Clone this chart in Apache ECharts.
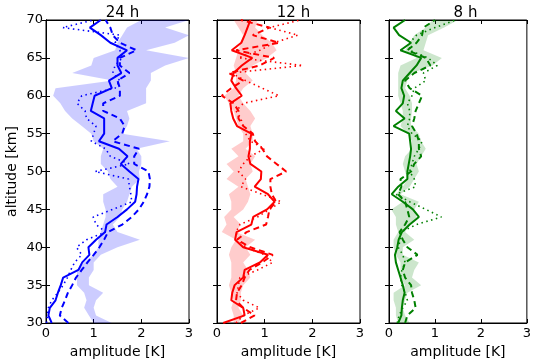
<!DOCTYPE html>
<html><head><meta charset="utf-8">
<script src="https://cdn.jsdelivr.net/npm/echarts@6/dist/echarts.min.js"></script>
<style>html,body{margin:0;padding:0;background:#fff}#c{width:534px;height:364px}</style>
</head><body><div id="c"></div>
<script>
// altitude levels [km], ascending 30..70
const altitudes = [30,31,32,33,34,35,36,37,38,39,40,41,42,43,44,45,46,47,48,49,50,51,52,53,54,55,56,57,58,59,60,61,62,63,64,65,66,67,68,69,70];
const panelTitles = ['24 h','12 h','8 h'];
const xTicks = [0,1,2,3];
const yTicks = [30,35,40,45,50,55,60,65,70];

// 24 h
const solid24 = [0.12,0.05,0.08,0.20,0.25,0.31,0.36,0.68,0.76,0.91,0.89,1.05,1.24,1.27,1.50,1.70,1.87,1.90,1.91,1.94,1.75,1.57,1.71,1.53,1.11,1.22,1.22,1.22,0.94,0.98,1.02,1.38,1.32,1.58,1.50,1.50,1.70,1.35,1.15,0.92,1.15];
const dashed24 = [0.47,0.29,0.33,0.40,0.46,0.55,0.63,0.75,0.87,1.00,1.12,1.22,1.30,1.60,1.80,1.95,2.05,2.12,2.17,2.18,2.15,1.85,1.85,1.95,1.40,1.60,1.65,1.55,1.20,1.20,1.55,1.55,1.50,1.75,1.55,1.55,1.90,1.55,1.40,1.35,1.25];
const dotted24 = [0.01,0.03,0.05,0.12,0.25,0.36,0.45,0.52,0.60,0.75,0.64,0.85,1.25,1.05,0.99,1.40,1.80,1.78,1.75,1.73,1.03,1.75,1.35,1.25,0.95,1.00,1.05,0.85,0.82,0.65,0.75,1.45,1.55,1.40,1.45,1.60,1.55,1.45,1.55,0.35,1.00];
const bandLow24 = [1.0,0.9,0.8,0.85,0.8,0.65,0.65,0.65,0.8,1.0,1.1,1.1,1.15,1.2,1.25,1.25,1.2,1.2,1.5,1.35,1.3,1.15,1.15,1.2,1.0,0.95,0.75,0.55,0.4,0.3,0.15,0.2,1.4,0.55,0.95,1.0,1.45,1.5,1.6,1.7,2.0];
const bandHigh24 = [1.38,1.05,1.0,1.05,1.2,0.9,0.9,1.0,1.0,1.15,1.5,1.97,1.5,1.4,1.55,1.6,1.7,1.75,1.8,1.97,1.95,2.0,2.0,1.9,2.6,1.6,1.7,1.75,1.7,2.1,2.1,2.1,2.2,2.2,2.5,3.0,2.1,2.7,3.0,2.5,3.0];

// 12 h
const solid12 = [0.13,0.58,0.55,0.30,0.32,0.37,0.55,0.58,0.90,1.07,0.55,0.38,0.41,0.72,0.76,1.05,1.21,1.07,0.79,0.92,0.93,0.70,0.66,0.69,0.69,0.72,0.42,0.34,0.30,0.28,0.52,0.40,0.30,0.35,0.52,0.74,0.31,0.51,0.58,0.64,0.70];
const dashed12 = [0.50,0.79,0.55,0.40,0.42,0.52,0.58,0.68,0.95,1.17,0.70,0.42,0.62,1.03,1.07,1.10,1.24,1.15,1.12,1.12,1.45,1.25,1.05,0.95,0.80,0.75,0.55,0.45,0.45,0.35,0.10,0.30,0.55,0.25,0.90,1.20,0.40,1.30,0.75,1.10,0.50];
const dotted12 = [0.40,0.55,0.89,0.55,0.42,0.45,0.48,0.85,1.17,1.00,0.60,0.45,0.40,0.48,0.85,1.10,1.35,0.95,0.50,0.60,0.45,0.55,0.70,1.00,0.70,0.60,0.55,0.50,0.40,0.55,1.30,0.95,0.60,0.30,1.80,0.45,0.90,1.20,1.70,1.10,1.75];
const bandLow12 = [0.35,0.35,0.30,0.35,0.30,0.25,0.30,0.30,0.30,0.25,0.30,0.40,0.10,0.20,0.15,0.30,0.30,0.25,0.45,0.20,0.35,0.20,0.45,0.30,0.55,0.55,0.45,0.40,0.35,0.25,0.15,0.35,0.40,0.40,0.35,0.40,0.45,0.50,0.55,0.45,0.35];
const bandHigh12 = [0.45,0.55,0.45,0.50,0.50,0.55,0.70,0.65,0.55,0.70,0.60,0.80,0.40,0.50,0.35,0.55,0.65,0.70,0.65,0.60,0.75,0.70,0.80,0.60,0.75,0.75,0.70,0.80,0.70,0.55,0.45,0.55,0.75,0.60,0.75,1.05,1.25,1.15,0.95,0.80,0.85];

// 8 h
const solid8 = [0.20,0.27,0.28,0.30,0.34,0.30,0.25,0.20,0.15,0.13,0.18,0.21,0.28,0.45,0.65,0.52,0.30,0.06,0.20,0.40,0.40,0.43,0.46,0.48,0.46,0.44,0.10,0.34,0.15,0.30,0.33,0.27,0.30,0.45,0.60,0.70,0.25,0.48,0.22,0.10,0.35];
const dashed8 = [0.35,0.40,0.58,0.55,0.50,0.48,0.35,0.30,0.35,0.62,0.40,0.30,0.23,0.35,0.44,0.40,0.35,0.20,0.27,0.25,0.48,0.55,0.70,0.65,0.65,0.60,0.50,0.55,0.58,0.65,0.72,0.45,0.35,0.55,0.90,0.80,0.40,0.60,0.72,0.75,1.00];
const dotted8 = [0.18,0.22,0.30,0.40,0.35,0.28,0.25,0.28,0.35,0.30,0.20,0.25,0.25,0.60,1.14,0.80,0.45,0.15,0.58,0.55,0.45,0.50,0.55,0.65,0.72,0.50,0.40,0.45,0.45,0.40,0.50,0.55,0.80,0.75,1.05,0.85,0.45,0.45,0.60,1.00,1.45];
const bandLow8 = [0.20,0.15,0.15,0.10,0.10,0.35,0.25,0.25,0.25,0.15,0.10,0.10,0.20,0.15,0.15,0.05,0.30,0.15,0.30,0.40,0.35,0.30,0.35,0.50,0.50,0.40,0.25,0.30,0.30,0.25,0.20,0.20,0.20,0.20,0.25,0.60,0.35,0.45,0.55,0.80,0.95];
const bandHigh8 = [0.45,0.35,0.30,0.35,0.40,0.70,0.50,0.55,0.65,0.30,0.30,0.55,0.35,0.45,0.60,0.55,0.65,0.25,0.45,0.55,0.65,0.60,0.70,0.80,0.70,0.65,0.48,0.48,0.50,0.50,0.45,0.35,0.40,0.50,0.95,1.15,0.75,0.80,0.85,1.20,1.50];

const panels = [
  {solid: solid24, dashed: dashed24, dotted: dotted24, low: bandLow24, high: bandHigh24, color: '#0000ff', fill: 'rgba(0,0,255,0.2)'},
  {solid: solid12, dashed: dashed12, dotted: dotted12, low: bandLow12, high: bandHigh12, color: '#ff0000', fill: 'rgba(255,0,0,0.2)'},
  {solid: solid8, dashed: dashed8, dotted: dotted8, low: bandLow8, high: bandHigh8, color: '#008000', fill: 'rgba(0,128,0,0.2)'}
];

const FONT = 'DejaVu Sans';
const lefts = [46, 217, 389];
const W = 143, TOP = 20, H = 308;

const grids = [], xAxes = [], yAxes = [], series = [], titles = [];
panels.forEach((p, i) => {
  grids.push({left: lefts[i], top: TOP, width: W, height: H, show: true, borderColor: '#000', borderWidth: 1, backgroundColor: 'transparent'});
  const tick = {show: true, inside: true, length: 4, lineStyle: {color: '#000', width: 1}};
  const xBase = {type: 'value', gridIndex: i, min: xTicks[0], max: xTicks[xTicks.length-1], interval: 1,
    splitLine: {show: false}, axisLine: {show: true, lineStyle: {color: '#000', width: 1}}, axisTick: tick};
  xAxes.push(Object.assign({}, xBase, {position: 'bottom',
    axisLabel: {show: true, color: '#000', fontSize: 13, fontFamily: FONT, margin: 4},
    name: 'amplitude [K]', nameLocation: 'middle', nameGap: 22,
    nameTextStyle: {color: '#000', fontSize: 14, fontFamily: FONT}}));
  xAxes.push(Object.assign({}, xBase, {position: 'top', axisLabel: {show: false}}));
  const yBase = {type: 'value', gridIndex: i, min: yTicks[0], max: yTicks[yTicks.length-1], interval: 5,
    splitLine: {show: false}, axisLine: {show: true, lineStyle: {color: '#000', width: 1}}, axisTick: tick};
  const yLeft = Object.assign({}, yBase, {position: 'left',
    axisLabel: {show: i === 0, color: '#000', fontSize: 13, fontFamily: FONT, margin: 3}});
  if (i === 0) {
    yLeft.name = 'altitude [km]';
    yLeft.nameLocation = 'middle';
    yLeft.nameGap = 27;
    yLeft.nameTextStyle = {color: '#000', fontSize: 14, fontFamily: FONT};
  }
  yAxes.push(yLeft);
  yAxes.push(Object.assign({}, yBase, {position: 'right', axisLabel: {show: false}}));

  titles.push({text: panelTitles[i], left: lefts[i] + W / 2, top: 1, textAlign: 'center',
    textStyle: {color: '#000', fontSize: 15, fontWeight: 'normal', fontFamily: FONT}});

  const bandData = altitudes.map((a, k) => [p.low[k], a, p.high[k]]);
  series.push({
    type: 'custom', xAxisIndex: 2*i, yAxisIndex: 2*i, clip: true, z: 1, silent: true,
    data: bandData,
    renderItem: function (params, api) {
      if (params.dataIndex !== 0) return;
      const pts = [];
      for (let k = 0; k < altitudes.length; k++) pts.push(api.coord([p.low[k], altitudes[k]]));
      for (let k = altitudes.length - 1; k >= 0; k--) pts.push(api.coord([p.high[k], altitudes[k]]));
      return {type: 'polygon', shape: {points: pts}, style: {fill: p.fill, stroke: null}};
    }
  });
  const mk = (vals, type, width) => ({
    type: 'line', xAxisIndex: 2*i, yAxisIndex: 2*i, z: 3, showSymbol: false, symbol: 'none', clip: true,
    data: altitudes.map((a, k) => [vals[k], a]),
    lineStyle: {color: p.color, width: width, type: type}
  });
  series.push(mk(p.solid, 'solid', 2));
  series.push(mk(p.dashed, [6, 4], 2));
  series.push(mk(p.dotted, [1.5, 3.5], 1.6));
});

const chart = echarts.init(document.getElementById('c'), null, {renderer: 'canvas'});
chart.setOption({animation: false, backgroundColor: '#fff', title: titles, grid: grids, xAxis: xAxes, yAxis: yAxes, series: series});
</script></body></html>
